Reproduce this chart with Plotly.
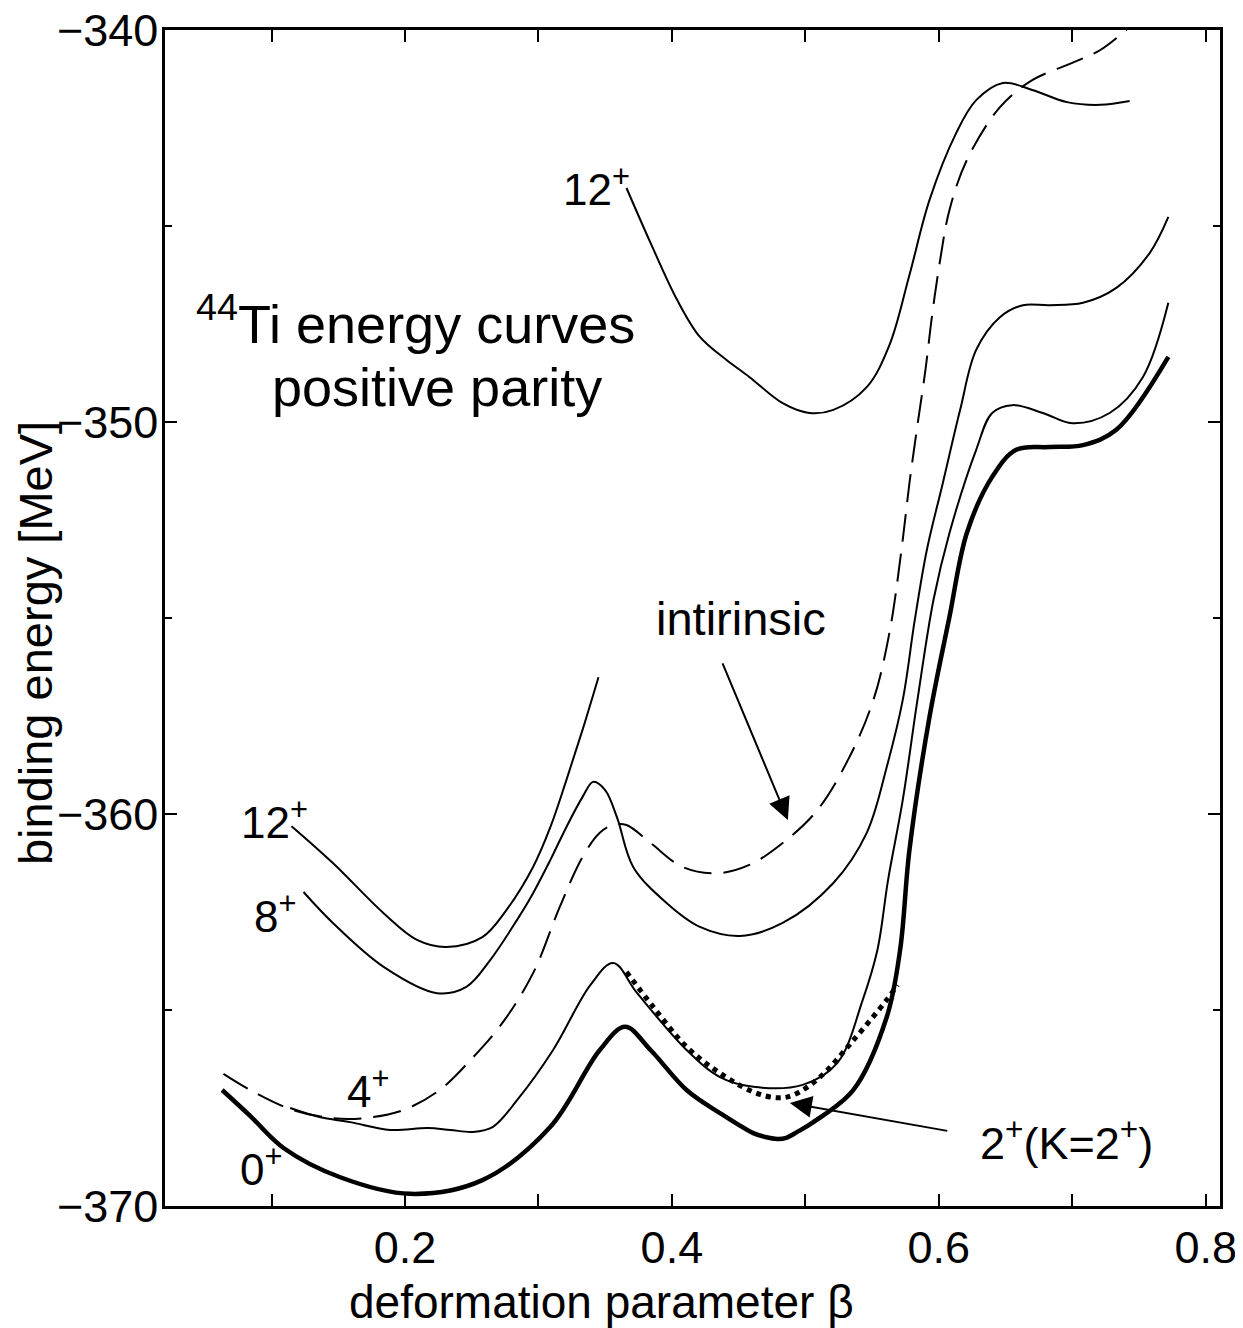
import plotly.graph_objects as go

# ---- data (beta, binding energy in MeV) ----
beta_0p = [0.063, 0.084, 0.109, 0.151, 0.204, 0.258, 0.309, 0.346, 0.365, 0.384, 0.411, 0.436,
           0.461, 0.470, 0.479, 0.485, 0.494, 0.506, 0.536, 0.561, 0.571, 0.578, 0.593, 0.608,
           0.621, 0.640, 0.658, 0.683, 0.708, 0.733, 0.772]
E_0p = [-367.04, -367.70, -368.52, -369.26, -369.69, -369.34, -367.98, -366.02, -365.43, -366.02,
        -367.04, -367.63, -368.14, -368.24, -368.29, -368.27, -368.11, -367.86, -367.04, -365.18,
        -363.47, -360.92, -357.53, -354.97, -352.83, -351.40, -350.71, -350.64, -350.59, -350.20,
        -348.34]

beta_4p = [0.114, 0.136, 0.159, 0.189, 0.217, 0.234, 0.251, 0.266, 0.284, 0.311, 0.339, 0.356,
           0.374, 0.411, 0.436, 0.461, 0.498, 0.524, 0.543, 0.554, 0.562, 0.573, 0.584, 0.596,
           0.608, 0.628, 0.640, 0.655, 0.678, 0.700, 0.728, 0.753, 0.772]
E_4p = [-367.50, -367.73, -367.86, -368.06, -368.01, -368.06, -368.11, -367.98, -367.30, -366.02,
        -364.36, -363.80, -364.57, -366.02, -366.71, -366.96, -366.91, -366.35, -364.74, -363.47,
        -361.68, -359.64, -357.09, -354.54, -352.83, -350.71, -349.77, -349.57, -349.77, -350.03,
        -349.77, -348.85, -346.96]

beta_8p = [0.124, 0.146, 0.184, 0.224, 0.246, 0.264, 0.284, 0.296, 0.309, 0.321, 0.333, 0.341,
           0.350, 0.359, 0.371, 0.396, 0.421, 0.451, 0.483, 0.521, 0.546, 0.561, 0.573, 0.582,
           0.591, 0.603, 0.616, 0.628, 0.646, 0.663, 0.683, 0.708, 0.733, 0.758, 0.772]
E_8p = [-361.99, -362.78, -363.90, -364.57, -364.41, -363.72, -362.70, -362.02, -361.17, -360.33,
        -359.57, -359.18, -359.39, -360.10, -361.35, -362.27, -362.88, -363.11, -362.78, -361.76,
        -360.48, -358.80, -357.09, -355.05, -353.27, -351.56, -349.69, -348.16, -347.32, -347.02,
        -347.02, -346.96, -346.58, -345.69, -344.77]

beta_12p_low = [0.115, 0.146, 0.184, 0.209, 0.231, 0.258, 0.276, 0.296, 0.309, 0.321, 0.333, 0.345]
E_12p_low = [-360.31, -361.25, -362.53, -363.21, -363.39, -363.14, -362.45, -361.35, -360.33,
             -359.13, -357.86, -356.51]

beta_12p_high = [0.366, 0.384, 0.404, 0.421, 0.441, 0.458, 0.483, 0.503, 0.521, 0.546, 0.563,
                 0.578, 0.593, 0.613, 0.628, 0.648, 0.670, 0.696, 0.721, 0.743]
E_12p_high = [-344.03, -345.43, -346.89, -347.83, -348.42, -348.85, -349.52, -349.77, -349.69,
              -349.11, -348.04, -346.25, -344.34, -342.63, -341.79, -341.35, -341.53, -341.84,
              -341.91, -341.81]

beta_intr = [0.064, 0.084, 0.116, 0.146, 0.169, 0.199, 0.226, 0.249, 0.273, 0.296, 0.316, 0.333,
             0.346, 0.356, 0.366, 0.384, 0.408, 0.434, 0.458, 0.483, 0.509, 0.533, 0.551, 0.563,
             0.572, 0.578, 0.584, 0.590, 0.595, 0.601, 0.608, 0.621, 0.646, 0.670, 0.700, 0.721,
             0.742]
E_intr = [-366.63, -367.04, -367.55, -367.76, -367.76, -367.55, -367.04, -366.28, -365.33, -364.06,
          -362.37, -361.10, -360.48, -360.28, -360.28, -360.74, -361.35, -361.51, -361.30, -360.74,
          -359.90, -358.55, -357.09, -355.38, -353.27, -351.56, -350.08, -348.67, -347.27, -345.87,
          -344.59, -343.32, -341.96, -341.28, -340.84, -340.51, -339.95]

beta_2pK2 = [0.366, 0.386, 0.411, 0.436, 0.461, 0.479, 0.491, 0.511, 0.536, 0.561, 0.569]
E_2pK2 = [-364.03, -364.92, -365.94, -366.61, -367.09, -367.24, -367.17, -366.71, -365.77,
          -364.74, -364.36]

x_major = [0.2, 0.4, 0.6, 0.8]
x_major_text = ["0.2", "0.4", "0.6", "0.8"]
x_minor = [0.1, 0.3, 0.5, 0.7]
y_major = [-370, -360, -350, -340]
y_major_text = ["\u2212370", "\u2212360", "\u2212350", "\u2212340"]
y_minor = [-365, -355, -345]

FONT = "Liberation Sans, Arial, Helvetica, sans-serif"

fig = go.Figure()

def add_curve(x, y, width, dash="solid"):
    fig.add_trace(go.Scatter(x=x, y=y, mode="lines",
                             line=dict(color="black", width=width, dash=dash,
                                       shape="spline", smoothing=1.0),
                             hoverinfo="skip", showlegend=False))

add_curve(beta_intr, E_intr, 2, "28px,12px")
add_curve(beta_12p_high, E_12p_high, 2)
add_curve(beta_12p_low, E_12p_low, 2)
add_curve(beta_8p, E_8p, 2)
add_curve(beta_4p, E_4p, 2)
add_curve(beta_2pK2, E_2pK2, 5, "5px,5px")
add_curve(beta_0p, E_0p, 4.5)

annotations = [
    dict(x=0.3436, y=-343.98, text="12<sup>+</sup>", size=44),
    dict(x=0.1019, y=-360.15, text="12<sup>+</sup>", size=44),
    dict(x=0.1026, y=-362.55, text="8<sup>+</sup>", size=44),
    dict(x=0.1723, y=-367.00, text="4<sup>+</sup>", size=44),
    dict(x=0.0921, y=-369.00, text="0<sup>+</sup>", size=44),
    dict(x=0.6959, y=-368.32, text="2<sup>+</sup>(K=2<sup>+</sup>)", size=45),
    dict(x=0.452, y=-355.00, text="intirinsic", size=47),
]
for a in annotations:
    fig.add_annotation(x=a["x"], y=a["y"], xref="x", yref="y", text=a["text"],
                       showarrow=False, xanchor="center", yanchor="middle",
                       font=dict(family=FONT, size=a["size"], color="black"))

title_font = dict(family=FONT, size=54, color="black")
fig.add_annotation(x=0.2082, y=-347.40, xref="x", yref="y", text="<sup>44</sup>Ti energy curves",
                   showarrow=False, xanchor="center", yanchor="middle", font=title_font)
fig.add_annotation(x=0.224, y=-349.10, xref="x", yref="y", text="positive parity",
                   showarrow=False, xanchor="center", yanchor="middle", font=title_font)

# arrows
fig.add_annotation(x=0.4869, y=-360.15, ax=0.4375, ay=-356.12, xref="x", yref="y",
                   axref="x", ayref="y", text="", showarrow=True, arrowhead=2,
                   arrowsize=2.2, arrowwidth=2, arrowcolor="black")
fig.add_annotation(x=0.4884, y=-367.37, ax=0.6075, ay=-368.09, xref="x", yref="y",
                   axref="x", ayref="y", text="", showarrow=True, arrowhead=2,
                   arrowsize=2.2, arrowwidth=2, arrowcolor="black")

# axis titles
fig.add_annotation(x=0.4142, y=-0.0816, xref="paper", yref="paper",
                   text="deformation parameter \u03b2", showarrow=False,
                   xanchor="center", yanchor="middle",
                   font=dict(family=FONT, size=46, color="black"))
fig.add_annotation(x=-0.1232, y=0.4787, xref="paper", yref="paper",
                   text="binding energy [MeV]", showarrow=False, textangle=-90,
                   xanchor="center", yanchor="middle",
                   font=dict(family=FONT, size=47, color="black"))

tick_font = dict(family=FONT, size=45, color="black")
fig.update_xaxes(range=[0.0202, 0.8107], tickvals=x_major, ticktext=x_major_text,
                 ticks="inside", ticklen=12, tickwidth=2, tickcolor="black",
                 minor=dict(tickvals=x_minor, ticks="inside", ticklen=12, tickwidth=2,
                            tickcolor="black"),
                 showline=True, linecolor="black", linewidth=2.5, mirror="ticks",
                 showgrid=False, zeroline=False, tickfont=tick_font,
                 ticklabeloverflow="allow", automargin=False)
fig.update_yaxes(range=[-370, -340], tickvals=y_major, ticktext=y_major_text,
                 ticks="inside", ticklen=12, tickwidth=2, tickcolor="black",
                 minor=dict(tickvals=y_minor, ticks="inside", ticklen=7, tickwidth=2,
                            tickcolor="black"),
                 showline=True, linecolor="black", linewidth=2.5, mirror="ticks",
                 showgrid=False, zeroline=False, tickfont=tick_font,
                 ticklabeloverflow="allow", automargin=False, ticklabelstandoff=-5)

# page body has an 8px margin, so the figure is shifted by 8px; compensate
fig.update_layout(width=1235, height=1320, margin=dict(l=157, r=23, t=22, b=122),
                  plot_bgcolor="white", paper_bgcolor="white", showlegend=False,
                  font=dict(family=FONT, color="black"))

fig.write_html("out.html")
